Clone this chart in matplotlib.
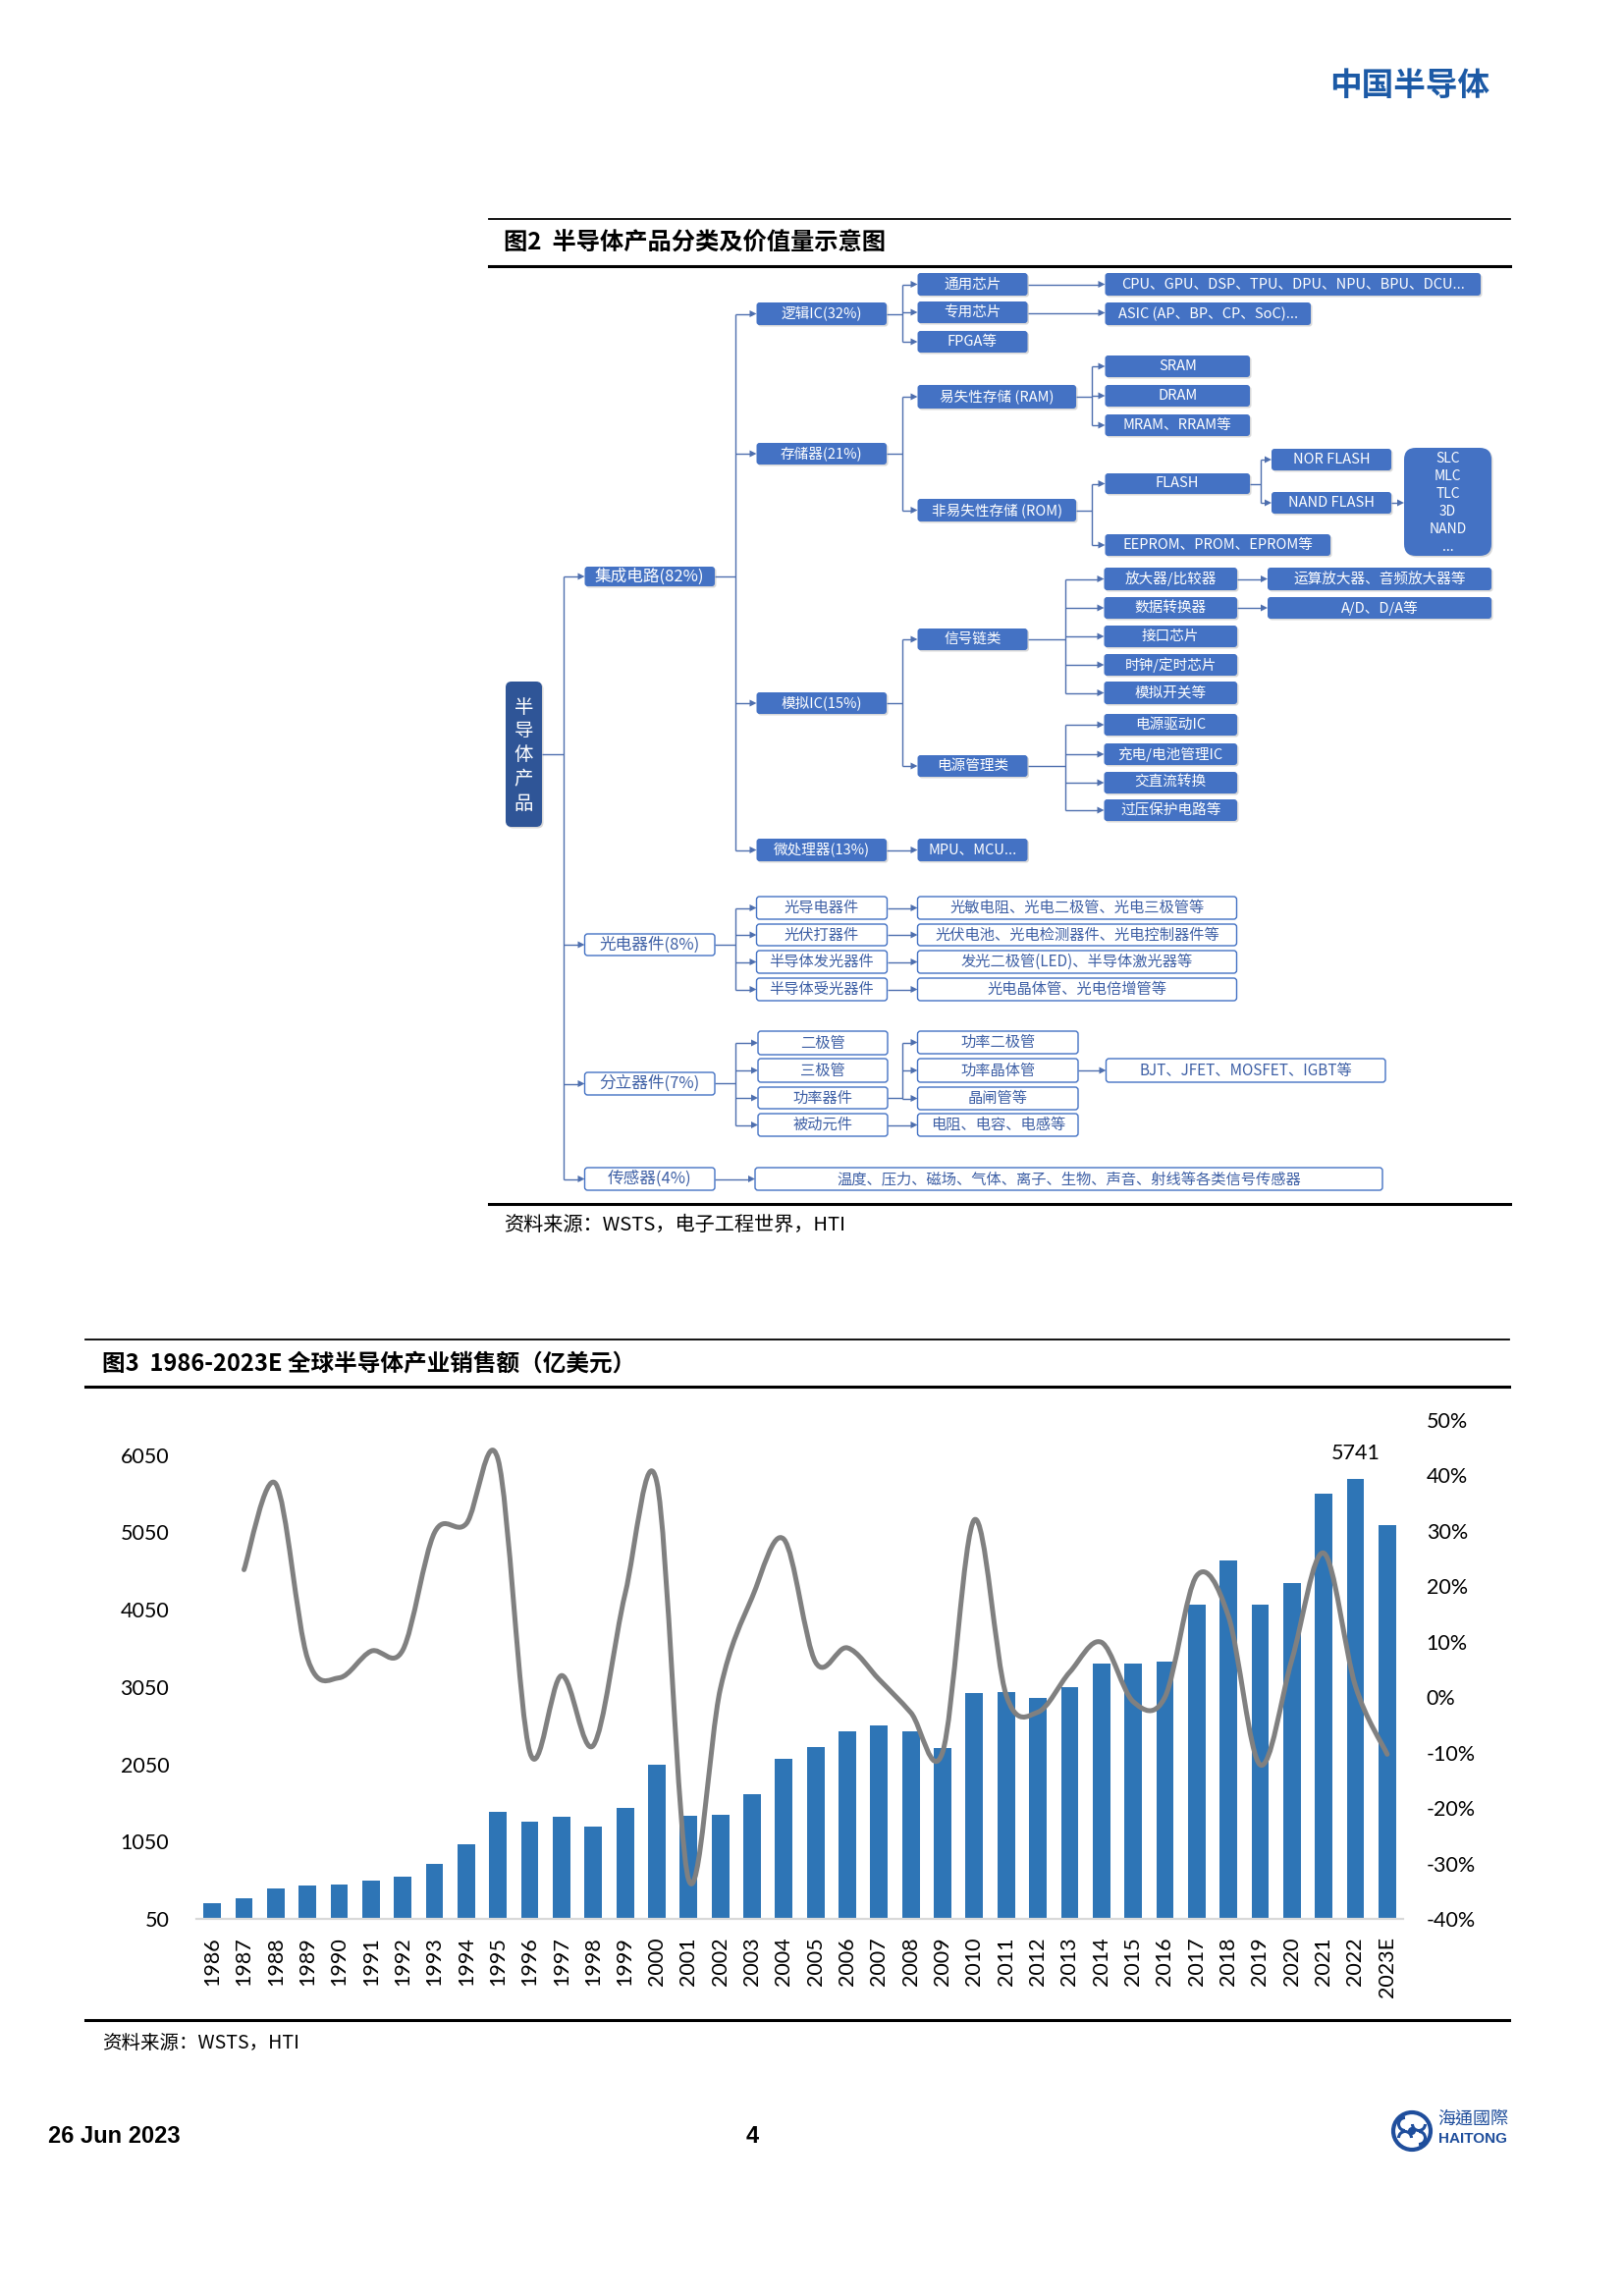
import numpy as np
import matplotlib.pyplot as plt
from matplotlib.patches import FancyBboxPatch, Polygon, Circle, Arc, PathPatch
from matplotlib.path import Path

# ---- chart data (figure 3) ----
years = ["1986", "1987", "1988", "1989", "1990", "1991", "1992", "1993", "1994",
         "1995", "1996", "1997", "1998", "1999", "2000", "2001", "2002", "2003",
         "2004", "2005", "2006", "2007", "2008", "2009", "2010", "2011", "2012",
         "2013", "2014", "2015", "2016", "2017", "2018", "2019", "2020", "2021",
         "2022", "2023E"]
sales = [250, 317, 442, 487, 498, 544, 595, 759, 1015, 1440, 1310, 1372, 1242,
         1486, 2042, 1384, 1395, 1662, 2121, 2269, 2473, 2553, 2473, 2258, 2973,
         2984, 2905, 3047, 3359, 3359, 3381, 4114, 4687, 4114, 4397, 5549, 5741,
         5146]
# yoy growth (%) from 1987 on
growth = [23.0, 38.5, 7.0, 3.5, 8.3, 8.5, 29.7, 31.3, 42.9, -9.9, 3.9, -8.7,
          18.6, 38.8, -32.9, 1.5, 18.0, 28.5, 6.3, 8.9, 3.2, -2.8, -9.9, 32.0,
          0.4, -2.7, 4.5, 9.9, -0.8, 0.0, 21.9, 14.6, -12.2, 6.8, 26.0, 2.0,
          -10.3]
left_ticks = [50, 1050, 2050, 3050, 4050, 5050, 6050]
right_ticks = [-40, -30, -20, -10, 0, 10, 20, 30, 40, 50]

# ---- tree labels (figure 2) ----
root_label = "半导体产品"
top_categories = ["集成电路(82%)", "光电器件(8%)", "分立器件(7%)", "传感器(4%)"]
ic_branches = ["逻辑IC(32%)", "存储器(21%)", "模拟IC(15%)", "微处理器(13%)"]
logic_types = ["通用芯片", "专用芯片", "FPGA等"]
logic_examples = ["CPU、GPU、DSP、TPU、DPU、NPU、BPU、DCU...", "ASIC (AP、BP、CP、SoC)..."]
memory_types = ["易失性存储 (RAM)", "非易失性存储 (ROM)"]
ram_items = ["SRAM", "DRAM", "MRAM、RRAM等"]
rom_items = ["FLASH", "EEPROM、PROM、EPROM等"]
flash_items = ["NOR FLASH", "NAND FLASH"]
nand_cells = ["SLC", "MLC", "TLC", "3D", "NAND", "..."]
analog_types = ["信号链类", "电源管理类"]
signal_items = ["放大器/比较器", "数据转换器", "接口芯片", "时钟/定时芯片", "模拟开关等"]
signal_examples = ["运算放大器、音频放大器等", "A/D、D/A等"]
power_items = ["电源驱动IC", "充电/电池管理IC", "交直流转换", "过压保护电路等"]
mpu_example = "MPU、MCU..."
opto_items = ["光导电器件", "光伏打器件", "半导体发光器件", "半导体受光器件"]
opto_examples = ["光敏电阻、光电二极管、光电三极管等", "光伏电池、光电检测器件、光电控制器件等",
                 "发光二极管(LED)、半导体激光器等", "光电晶体管、光电倍增管等"]
discrete_items = ["二极管", "三极管", "功率器件", "被动元件"]
power_devices = ["功率二极管", "功率晶体管", "晶闸管等"]
transistor_example = "BJT、JFET、MOSFET、IGBT等"
passive_example = "电阻、电容、电感等"
sensor_example = "温度、压力、磁场、气体、离子、生物、声音、射线等各类信号传感器"

W, H = 1654, 2338
CJK = ['Noto Sans CJK SC', 'DejaVu Sans']
BLUE = '#4472c4'
ROOT = '#2f5597'
LINE = '#4e6fae'
TXT = '#3d5fa5'
BAR = '#2e75b6'

fig = plt.figure(figsize=(W / 100, H / 100), dpi=100)
pg = fig.add_axes([0, 0, 1, 1])
pg.set_xlim(0, W)
pg.set_ylim(H, 0)
pg.axis('off')


def box(x0, y0, x1, y1, text, filled=True, size=10.5, r=3, color=BLUE):
    style = f"round,pad=0,rounding_size={r}"
    if filled:
        pg.add_patch(FancyBboxPatch((x0 + 1.5, y0 + 1.5), x1 - x0, y1 - y0, boxstyle=style,
                                    fc='#909090', ec='none', alpha=0.35, zorder=1))
        pg.add_patch(FancyBboxPatch((x0, y0), x1 - x0, y1 - y0, boxstyle=style,
                                    fc=color, ec='none', zorder=2))
        tc = 'white'
    else:
        pg.add_patch(FancyBboxPatch((x0, y0), x1 - x0, y1 - y0, boxstyle=style,
                                    fc='white', ec=BLUE, lw=1.0, zorder=2))
        tc = TXT
    if text:
        pg.text((x0 + x1) / 2, (y0 + y1) / 2, text, ha='center', va='center',
                fontsize=size, color=tc, family=CJK, zorder=3)


def hl(x0, x1, y):
    pg.plot([x0, x1], [y, y], color=LINE, lw=1.0, solid_capstyle='butt', zorder=1)


def vl(x, y0, y1):
    pg.plot([x, x], [y0, y1], color=LINE, lw=1.0, solid_capstyle='butt', zorder=1)


def arrow(x0, x1, y):
    hl(x0, x1 - 5, y)
    pg.add_patch(Polygon([[x1 - 7, y - 3.5], [x1, y], [x1 - 7, y + 3.5]], closed=True,
                         fc=LINE, ec='none', zorder=1))


def bus(xs, xb, y_from, xt, ys):
    hl(xs, xb, y_from)
    vl(xb, min(ys), max(ys))
    for y in ys:
        arrow(xb, xt, y)


def mid(rows):
    return [(a + b) / 2 for a, b in rows]


# ---------------- page header ----------------
pg.text(1517, 88, "中国半导体", ha='right', va='center', fontsize=23.5, fontweight='bold',
        color='#1c5aa6', family=CJK)

# ---------------- figure 2: tree ----------------
pg.plot([498, 1538], [223, 223], color='black', lw=1.3)
pg.plot([498, 1538], [271, 271], color='black', lw=2.2)
pg.plot([498, 1538], [1226, 1226], color='black', lw=2.2)
pg.text(513, 248, "图2  半导体产品分类及价值量示意图", ha='left', va='center',
        fontsize=17.5, fontweight='bold', family=CJK)
pg.text(513, 1247, "资料来源：WSTS，电子工程世界，HTI", ha='left', va='center',
        fontsize=14.5, family=CJK)

# root
box(515, 694, 552, 842, "", color=ROOT, r=6)
for i, ch in enumerate(root_label):
    pg.text(533.5, 720 + 24.5 * i, ch, ha='center', va='center', fontsize=14,
            color='white', family=CJK, zorder=3)

top_y = [(577, 597), (951, 973), (1092, 1115), (1189, 1212)]
bus(552, 574, 768, 595.5, mid(top_y))
for k, (lab, (a, b)) in enumerate(zip(top_categories, top_y)):
    box(595.5, a, 728, b, lab, filled=(k == 0), size=12)

# integrated circuits
ic_y = [(308, 331), (451, 473), (705, 727), (854, 877)]
bus(728, 749, 587, 770.5, mid(ic_y))
for lab, (a, b) in zip(ic_branches, ic_y):
    box(770.5, a, 903, b, lab)

logic_y = [(278, 301), (307, 329), (337, 359)]
bus(903, 919, 319.5, 934.5, mid(logic_y))
for lab, (a, b) in zip(logic_types, logic_y):
    box(934.5, a, 1046.5, b, lab)
arrow(1046.5, 1125.5, 289.5)
box(1125.5, 278, 1508, 301, logic_examples[0])
arrow(1046.5, 1125.5, 318.5)
box(1125.5, 308, 1335, 331, logic_examples[1])

mem_y = [(392, 416), (508, 531)]
bus(903, 919, 462, 934.5, mid(mem_y))
for lab, (a, b) in zip(memory_types, mem_y):
    box(934.5, a, 1096, b, lab)

ram_y = [(362, 384), (392, 414), (422, 444)]
bus(1096, 1112, 404, 1125.5, mid(ram_y))
for lab, (a, b) in zip(ram_items, ram_y):
    box(1125.5, a, 1273, b, lab)

rom_y = [(482, 503), (544, 566)]
rom_x1 = [1273, 1355]
bus(1096, 1112, 519.5, 1125.5, mid(rom_y))
for lab, (a, b), x1 in zip(rom_items, rom_y, rom_x1):
    box(1125.5, a, x1, b, lab)

flash_y = [(457, 479), (501, 523)]
bus(1273, 1284, 492.5, 1295, mid(flash_y))
for lab, (a, b) in zip(flash_items, flash_y):
    box(1295, a, 1417, b, lab)
arrow(1417, 1430, 512)
box(1430, 456, 1519, 566, "", r=12)
for i, lab in enumerate(nand_cells):
    pg.text(1474.5, 467 + 18 * i, lab, ha='center', va='center', fontsize=10,
            color='white', family=CJK, zorder=3)

analog_y = [(640, 662), (769, 791)]
bus(903, 919, 716, 934.5, mid(analog_y))
for lab, (a, b) in zip(analog_types, analog_y):
    box(934.5, a, 1046.5, b, lab)

sig_y = [(578, 601), (608, 630), (637, 659), (666, 688), (694, 717)]
bus(1046.5, 1085, 651, 1124.5, mid(sig_y))
for lab, (a, b) in zip(signal_items, sig_y):
    box(1124.5, a, 1260, b, lab)
for lab, (a, b) in zip(signal_examples, sig_y[:2]):
    arrow(1260, 1291, (a + b) / 2)
    box(1291, a, 1519, b, lab)

pwr_y = [(727, 749), (757, 779), (786, 808), (814, 836)]
bus(1046.5, 1085, 780, 1124.5, mid(pwr_y))
for lab, (a, b) in zip(power_items, pwr_y):
    box(1124.5, a, 1260, b, lab)

arrow(903, 934.5, 865.5)
box(934.5, 854, 1046.5, 877, mpu_example)

# opto-electronics
opto_y = [(913, 936), (941, 963), (968, 991), (996, 1019)]
bus(728, 749, 962, 770.5, mid(opto_y))
for lab, ex, (a, b) in zip(opto_items, opto_examples, opto_y):
    box(770.5, a, 903.5, b, lab, filled=False, size=11)
    arrow(903.5, 934.5, (a + b) / 2)
    box(934.5, a, 1259.5, b, ex, filled=False, size=11)

# discrete devices
disc_y = [(1050, 1074), (1078, 1102), (1107, 1129), (1134, 1157)]
bus(728, 749, 1103, 772, mid(disc_y))
for lab, (a, b) in zip(discrete_items, disc_y):
    box(772, a, 904, b, lab, filled=False, size=11)

pdev_y = [(1050, 1073), (1078, 1102), (1107, 1130)]
bus(904, 919, 1118, 934.5, mid(pdev_y))
for lab, (a, b) in zip(power_devices, pdev_y):
    box(934.5, a, 1098, b, lab, filled=False, size=11)
arrow(1098, 1126.5, 1090)
box(1126.5, 1078, 1411, 1102, transistor_example, filled=False, size=11)
arrow(904, 934.5, 1145.5)
box(934.5, 1134, 1098, 1157, passive_example, filled=False, size=11)

# sensors
arrow(728, 769, 1200.5)
box(769, 1189, 1408, 1212, sensor_example, filled=False, size=11)

# ---------------- figure 3: chart ----------------
pg.plot([87, 1537], [1364, 1364], color='black', lw=1.3)
pg.plot([87, 1537], [1412, 1412], color='black', lw=2.2)
pg.plot([87, 1537], [2057, 2057], color='black', lw=2.2)
pg.text(104, 1389, "图3  1986-2023E 全球半导体产业销售额（亿美元）", ha='left', va='center',
        fontsize=17, fontweight='bold', family=CJK)
pg.text(104, 2081, "资料来源：WSTS，HTI", ha='left', va='center', fontsize=14, family=CJK)

ax = fig.add_axes([200 / W, 1 - 1954 / H, 1229 / W, 508 / H])
ax.patch.set_alpha(0)
x = np.arange(len(years))
ax.bar(x, sales, width=0.55, color=BAR, zorder=2)
ax.set_xlim(-0.5, len(years) - 0.5)
ax.set_ylim(50, 6503)
ax.set_yticks(left_ticks)
ax.set_yticklabels([str(v) for v in left_ticks], family='Lato', fontsize=15.5)
ax.set_xticks(x)
ax.set_xticklabels(years, rotation=90, family='Lato', fontsize=15.5)
ax.tick_params(axis='y', length=0, pad=20)
ax.tick_params(axis='x', length=0, pad=13)
for s in ['top', 'left', 'right']:
    ax.spines[s].set_visible(False)
ax.spines['bottom'].set_color('#d9d9d9')
ax.spines['bottom'].set_linewidth(1.6)
ax.annotate(str(sales[-2]), (x[-2], sales[-2]), xytext=(0, 19), textcoords='offset points',
            ha='center', va='center', family='Lato', fontsize=15.5)

ax2 = ax.twinx()
ax2.set_ylim(-40, 50)
ax2.set_yticks(right_ticks)
ax2.set_yticklabels([f"{v}%" for v in right_ticks], family='Lato', fontsize=15.5)
ax2.tick_params(axis='y', length=0, pad=17)
for s in ax2.spines.values():
    s.set_visible(False)

# smoothed growth line (bezier through the data points, like Excel's smoothing)
pts = np.column_stack([x[1:], growth]).astype(float)
n = len(pts)
verts = [pts[0]]
codes = [Path.MOVETO]
for i in range(n - 1):
    p0 = pts[i - 1] if i > 0 else pts[i]
    p1, p2 = pts[i], pts[i + 1]
    p3 = pts[i + 2] if i + 2 < n else pts[i + 1]
    verts += [p1 + (p2 - p0) / 6, p2 - (p3 - p1) / 6, p2]
    codes += [Path.CURVE4] * 3
ax2.add_patch(PathPatch(Path(verts, codes), fill=False, ec='#808080', lw=3.6,
                        capstyle='round', joinstyle='round', zorder=3))

# ---------------- footer ----------------
pg.text(49, 2176, "26 Jun 2023", ha='left', va='center', fontsize=17, fontweight='bold',
        family='Liberation Sans')
pg.text(766, 2176, "4", ha='center', va='center', fontsize=17, fontweight='bold',
        family='Liberation Sans')
LOGO = '#1f4e9c'
pg.add_patch(Circle((1438, 2170), 19, fc='none', ec=LOGO, lw=3))
pg.add_patch(Circle((1438, 2170), 4, fc=LOGO, ec='none'))
for cx, cy, t1, t2 in [(1431, 2163, 90, 270), (1445, 2177, 270, 90),
                       (1445, 2163, 0, 180), (1431, 2177, 180, 0)]:
    pg.add_patch(Arc((cx, cy), 13, 13, theta1=t1, theta2=t2, ec=LOGO, lw=2.2))
pg.text(1500, 2158, "海通國際", ha='center', va='center', fontsize=13,
        color=LOGO, family=['Noto Sans CJK TC', 'DejaVu Sans'])
pg.text(1500, 2178, "HAITONG", ha='center', va='center', fontsize=11, fontweight='bold',
        color=LOGO, family='Liberation Sans')

fig.savefig('out.png', dpi=100)
